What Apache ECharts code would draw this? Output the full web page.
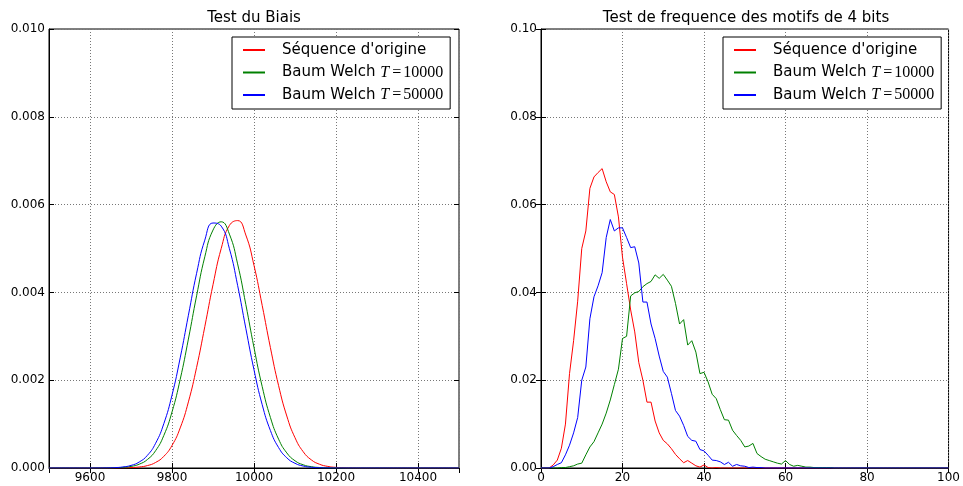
<!DOCTYPE html>
<html>
<head>
<meta charset="utf-8">
<script src="https://cdn.jsdelivr.net/npm/echarts@6/dist/echarts.min.js"></script>
<style>
  html, body { margin: 0; padding: 0; background: #fff; }
  #chart { width: 963px; height: 486px; }
</style>
</head>
<body>
<div id="chart"></div>
<script>
// legend names (same for both panels)
var seriesNames = ["Séquence d'origine", 'Baum Welch T=10000', 'Baum Welch T=50000'];
var titles = ['Test du Biais', 'Test de frequence des motifs de 4 bits'];

// left panel: "Test du Biais"
var biasX = [
  9500, 9520, 9540, 9560, 9580, 9600, 9620, 9640, 9660, 9680,
  9700, 9720, 9740, 9760, 9780, 9800, 9820, 9840, 9860, 9880,
  9900, 9920, 9940, 9960, 9980, 10000, 10020, 10040, 10060, 10080,
  10100, 10120, 10140, 10160, 10180, 10200, 10220, 10240, 10260, 10280,
  10300, 10320, 10340, 10360, 10380, 10400, 10420, 10440, 10460, 10480,
  10500
];
var biasOrig = [
  0, 0, 0, 0, 0, 0, 0, 0.0000003, 0.000001, 0.000003,
  0.000009, 0.000023, 0.000055, 0.000126, 0.000265, 0.000513, 0.000913, 0.001506, 0.002292, 0.003219,
  0.004175, 0.004999, 0.005524, 0.005636, 0.005308, 0.004614, 0.003703, 0.002743, 0.001876, 0.001184,
  0.000690, 0.000371, 0.000184, 0.000085, 0.000036, 0.000014, 0.000005, 0.000002, 0, 0,
  0, 0, 0, 0, 0, 0, 0, 0, 0, 0,
  0
];
var biasBW10k = [
  0, 0, 0, 0, 0, 0, 0, 0.0000015, 0.0000047, 0.0000136,
  0.0000357, 0.0000866, 0.000193, 0.000394, 0.000740, 0.001276, 0.002020, 0.002937, 0.003922, 0.004811,
  0.005420, 0.005608, 0.005328, 0.004650, 0.003727, 0.002743, 0.001855, 0.001152, 0.000657, 0.000344,
  0.000165, 0.0000731, 0.0000297, 0.0000111, 0.0000038, 0.0000012, 0, 0, 0, 0,
  0, 0, 0, 0, 0, 0, 0, 0, 0, 0,
  0
];
var biasBW50k = [
  0, 0, 0, 0, 0, 0, 0.000001, 0.0000029, 0.0000085, 0.0000233,
  0.0000588, 0.000136, 0.000288, 0.000563, 0.001009, 0.001659, 0.002508, 0.003480, 0.004435, 0.005191,
  0.005581, 0.005510, 0.004996, 0.004161, 0.003183, 0.002236, 0.001442, 0.000854, 0.000465, 0.000232,
  0.000107, 0.000045, 0.0000174, 0.0000062, 0.000002, 0, 0, 0, 0, 0,
  0, 0, 0, 0, 0, 0, 0, 0, 0, 0,
  0
];

// right panel: "Test de frequence des motifs de 4 bits"
var motifBins = [
  0, 1, 2, 3, 4, 5, 6, 7, 8, 9,
  10, 11, 12, 13, 14, 15, 16, 17, 18, 19,
  20, 21, 22, 23, 24, 25, 26, 27, 28, 29,
  30, 31, 32, 33, 34, 35, 36, 37, 38, 39,
  40, 41, 42, 43, 44, 45, 46, 47, 48, 49,
  50, 51, 52, 53, 54, 55, 56, 57, 58, 59,
  60, 61, 62, 63, 64, 65, 66, 67, 68, 69,
  70, 71, 72, 73, 74, 75, 76, 77, 78, 79,
  80, 81, 82, 83, 84, 85, 86, 87, 88, 89,
  90, 91, 92, 93, 94, 95, 96, 97, 98, 99,
  100
];
var motifOrig = [
  0, 0, 0, 0.0007, 0.0018, 0.0045, 0.010, 0.0215, 0.029, 0.038,
  0.050, 0.054, 0.0637, 0.0663, 0.0673, 0.0682, 0.0652, 0.0629, 0.0623, 0.0572,
  0.048, 0.042, 0.036, 0.031, 0.024, 0.020, 0.015, 0.015, 0.0107, 0.008,
  0.0063, 0.0055, 0.0044, 0.0031, 0.0021, 0.0012, 0.0017, 0.0011, 0.0005, 0.0002,
  0.0007, 0.0001, 0, 0.0001, 0, 0, 0, 0, 0, 0,
  0, 0, 0, 0, 0, 0, 0, 0, 0, 0,
  0, 0, 0, 0, 0, 0, 0, 0, 0, 0,
  0, 0, 0, 0, 0, 0, 0, 0, 0, 0,
  0, 0, 0, 0, 0, 0, 0, 0, 0, 0,
  0, 0, 0, 0, 0, 0, 0, 0, 0, 0,
  0
];
var motifBW10k = [
  0, 0, 0, 0, 0, 0.0001, 0.0001, 0.0003, 0.0005, 0.0009,
  0.0011, 0.003, 0.0048, 0.006, 0.008, 0.010, 0.0125, 0.0155, 0.019, 0.0225,
  0.0295, 0.030, 0.0392, 0.0399, 0.0402, 0.0413, 0.042, 0.0425, 0.044, 0.0432,
  0.0441, 0.0428, 0.0414, 0.0375, 0.0328, 0.0338, 0.028, 0.029, 0.0264, 0.0215,
  0.0218, 0.0196, 0.0168, 0.0158, 0.0133, 0.011, 0.0109, 0.0086, 0.0074, 0.0063,
  0.0048, 0.005, 0.0056, 0.0033, 0.0026, 0.002, 0.0017, 0.0014, 0.0011, 0.0009,
  0.0017, 0.0008, 0.0004, 0.0006, 0.0004, 0.0002, 0.0002, 0.0001, 0.0001, 0.0001,
  0.0001, 0.0001, 0, 0, 0, 0, 0, 0, 0, 0,
  0, 0, 0, 0, 0, 0, 0, 0, 0, 0,
  0, 0, 0, 0, 0, 0, 0, 0, 0, 0,
  0
];
var motifBW50k = [
  0, 0, 0, 0.0003, 0.0008, 0.0012, 0.003, 0.0052, 0.008, 0.0115,
  0.020, 0.023, 0.034, 0.039, 0.0415, 0.0445, 0.0525, 0.0566, 0.054, 0.0547,
  0.0547, 0.0525, 0.0502, 0.0504, 0.0467, 0.0378, 0.0378, 0.0328, 0.0295, 0.0255,
  0.022, 0.0207, 0.017, 0.0131, 0.0118, 0.0097, 0.0072, 0.0063, 0.0061, 0.0042,
  0.0039, 0.0029, 0.0018, 0.0017, 0.0014, 0.0008, 0.0013, 0.0004, 0.0008, 0.0005,
  0.0004, 0.0001, 0.0002, 0.0001, 0.0001, 0, 0, 0, 0, 0,
  0, 0, 0, 0, 0, 0, 0, 0, 0, 0,
  0, 0, 0, 0, 0, 0, 0, 0, 0, 0,
  0, 0, 0, 0, 0, 0, 0, 0, 0, 0,
  0, 0, 0, 0, 0, 0, 0, 0, 0, 0,
  0
];

var colors = ['#ff0000', '#008000', '#0000ff'];
var font = 'DejaVu Sans';

function pairs(xs, ys) {
  return xs.map(function (x, i) { return [x, ys[i]]; });
}

// main axis (labels, dotted grid) and mirror axis (only inward ticks)
function mainAxis(gridIndex, pos, extra) {
  return Object.assign({
    type: 'value',
    gridIndex: gridIndex,
    position: pos,
    axisLine: { show: true, lineStyle: { color: '#000', width: 1 } },
    axisTick: { show: true, inside: true, length: 5, lineStyle: { color: '#000' } },
    splitLine: { show: true, lineStyle: { color: '#777', width: 1, type: [1, 2] } }
  }, extra);
}
function mirrorAxis(gridIndex, pos, extra) {
  return Object.assign({
    type: 'value',
    gridIndex: gridIndex,
    position: pos,
    axisLine: { show: false },
    axisTick: { show: true, inside: true, length: 5, lineStyle: { color: '#000' } },
    axisLabel: { show: false },
    splitLine: { show: false }
  }, extra);
}
function labelStyle(extra) {
  return Object.assign({ color: '#000', fontFamily: font, fontSize: 12, margin: 4 }, extra);
}

var leftX = { min: 9500, max: 10500, splitNumber: 5 };
var rightX = { min: 0, max: 100, interval: 20 };
var leftY = { min: 0, max: 0.01, interval: 0.002 };
var rightY = { min: 0, max: 0.1, interval: 0.02 };

function legendFor(left) {
  return {
    data: seriesNames,
    orient: 'vertical',
    left: left,
    top: 37,
    padding: [5, 7, 6, 10],
    itemWidth: 22,
    itemHeight: 14,
    itemGap: 6.5,
    borderColor: '#000',
    borderWidth: 1,
    borderRadius: 0,
    backgroundColor: '#fff',
    selectedMode: false,
    itemStyle: { color: 'transparent', borderColor: 'transparent', borderWidth: 0 },
    textStyle: {
      fontFamily: font, fontSize: 15, color: '#000', lineHeight: 16,
      rich: {
        g: { width: 12, lineHeight: 16 },
        t: { fontFamily: 'Liberation Serif', fontStyle: 'italic', fontSize: 16, lineHeight: 16, color: '#000' },
        q: { fontFamily: 'Liberation Serif', fontSize: 16, lineHeight: 16, color: '#000', padding: [0, 2, 0, 3] },
        e: { fontFamily: 'Liberation Serif', fontSize: 16, lineHeight: 16, color: '#000' },
        s: { fontFamily: font, fontSize: 15, lineHeight: 16, color: '#000' }
      }
    },
    formatter: function (name) {
      var m = name.match(/^(Baum Welch )T=(\d+)$/);
      if (m) return '{g| }{s|' + m[1] + '}{t|T}{q|=}{e|' + m[2] + '}';
      return '{g| }{s|' + name + '}';
    }
  };
}

function lineSeries(k, xi, xs, ys, smooth) {
  return {
    type: 'line',
    name: seriesNames[k],
    xAxisIndex: xi,
    yAxisIndex: xi,
    data: pairs(xs, ys),
    symbol: 'none',
    smooth: smooth,
    lineStyle: { width: 1, color: colors[k] },
    itemStyle: { color: colors[k] }
  };
}

var option = {
  animation: false,
  backgroundColor: '#fff',
  title: [
    { text: titles[0], left: 254, top: 11, textAlign: 'center', padding: 0,
      textStyle: { fontFamily: font, fontSize: 15, fontWeight: 'normal', color: '#000' } },
    { text: titles[1], left: 746, top: 11, textAlign: 'center', padding: 0,
      textStyle: { fontFamily: font, fontSize: 15, fontWeight: 'normal', color: '#000' } }
  ],
  legend: [legendFor(232), legendFor(723)],
  grid: [
    { left: 49, top: 29, width: 410, height: 439, show: true, borderColor: '#000', borderWidth: 1 },
    { left: 541, top: 29, width: 410, height: 439, show: true, borderColor: '#000', borderWidth: 1 }
  ],
  xAxis: [
    mainAxis(0, 'bottom', Object.assign({}, leftX, {
      axisLabel: labelStyle({ showMinLabel: false, showMaxLabel: false,
        formatter: function (v) { return String(v); } })
    })),
    mirrorAxis(0, 'top', leftX),
    mainAxis(1, 'bottom', Object.assign({}, rightX, {
      axisLabel: labelStyle({ formatter: function (v) { return String(v); } })
    })),
    mirrorAxis(1, 'top', rightX)
  ],
  yAxis: [
    mainAxis(0, 'left', Object.assign({}, leftY, {
      axisLabel: labelStyle({ formatter: function (v) { return v.toFixed(3); } })
    })),
    mirrorAxis(0, 'right', leftY),
    mainAxis(1, 'left', Object.assign({}, rightY, {
      axisLabel: labelStyle({ formatter: function (v) { return v.toFixed(2); } })
    })),
    mirrorAxis(1, 'right', rightY)
  ],
  series: [
    lineSeries(0, 0, biasX, biasOrig, true),
    lineSeries(1, 0, biasX, biasBW10k, true),
    lineSeries(2, 0, biasX, biasBW50k, true),
    lineSeries(0, 2, motifBins, motifOrig, false),
    lineSeries(1, 2, motifBins, motifBW10k, false),
    lineSeries(2, 2, motifBins, motifBW50k, false)
  ]
};

var chart = echarts.init(document.getElementById('chart'));
chart.setOption(option);
</script>
</body>
</html>
